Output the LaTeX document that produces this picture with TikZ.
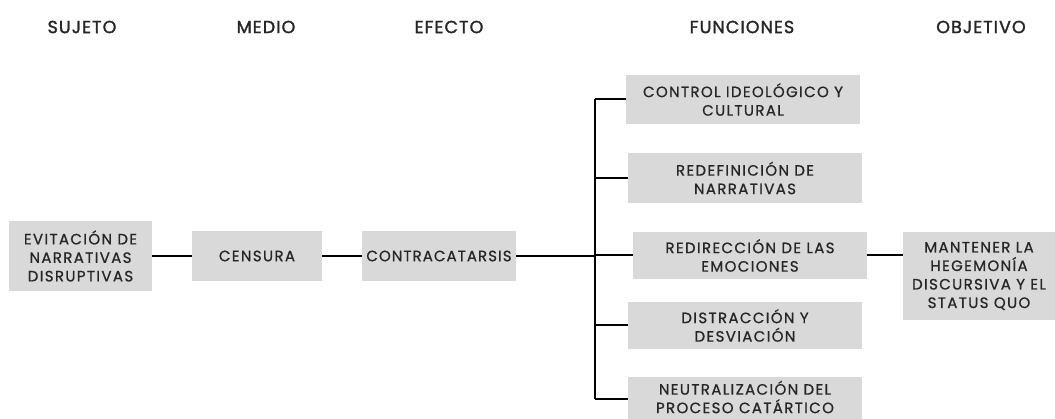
\documentclass[tikz,border=0pt]{standalone}
\usepackage{fontspec}
\setmainfont{Poppins}
\begin{document}
\begin{tikzpicture}[x=1pt,y=-1pt,
  box/.style={fill=boxgray, draw=none, inner sep=0pt, align=center,
    font=\fontsize{15}{18.5}\selectfont\addfontfeatures{LetterSpace=9,FakeBold=0.8}, text=txt},
  head/.style={font=\fontsize{17.5}{18}\selectfont\addfontfeatures{LetterSpace=6,FakeBold=1.6}, text=txt, inner sep=0pt},
  conn/.style={line width=2pt, black}]
\definecolor{boxgray}{HTML}{D9D9D9}
\definecolor{txt}{HTML}{262626}
\path[use as bounding box, fill=white] (0,0) rectangle (1055,419);
\clip (0,0) rectangle (1055,419);
% headers
\node[head] (h1) at (82,27) {SUJETO};
\node[head] (h2) at (266,27) {MEDIO};
\node[head] (h3) at (449,27) {EFECTO};
\node[head] (h4) at (742,27) {FUNCIONES};
\node[head] (h5) at (981,27) {OBJETIVO};
% boxes
\node[box, minimum width=143, minimum height=70] (evit) at (80.5,256) {EVITACIÓN DE\\NARRATIVAS\\DISRUPTIVAS};
\node[box, minimum width=130, minimum height=50] (cens) at (257,256) {CENSURA};
\node[box, minimum width=154, minimum height=50, font=\fontsize{15}{18.5}\selectfont\addfontfeatures{LetterSpace=7,FakeBold=0.8}] (contra) at (439,256) {CONTRACATARSIS};
\node[box, minimum width=234, minimum height=49] (f1) at (743,99.5) {CONTROL IDEOLÓGICO Y\\CULTURAL};
\node[box, minimum width=234, minimum height=50] (f2) at (745,178) {REDEFINICIÓN DE\\NARRATIVAS};
\node[box, minimum width=234, minimum height=47] (f3) at (750,255.5) {REDIRECCIÓN DE LAS\\EMOCIONES};
\node[box, minimum width=234, minimum height=47] (f4) at (745,325.5) {DISTRACCIÓN Y\\DESVIACIÓN};
\fill[boxgray] (628,400) rectangle (862,425);
\node[box, minimum width=234, minimum height=40] (f5) at (745,397) {NEUTRALIZACIÓN DEL\\PROCESO CATÁRTICO};
\node[box, minimum width=152, minimum height=88] (obj) at (979,276) {MANTENER LA\\HEGEMONÍA\\DISCURSIVA Y EL\\STATUS QUO};
% connectors
\coordinate (t) at (595,256);
\coordinate (t5) at (595,399);
\draw[conn] (evit.east) -- (cens.west);
\draw[conn] (cens.east) -- (contra.west);
\draw[conn] (contra.east) -- (t);
\draw[conn] (t |- f1) -- (t5);
\foreach \f in {f1,f2,f3,f4} \draw[conn] (t |- \f) -- (\f.west);
\draw[conn] (t5) -- (f5.west |- t5);
\draw[conn] (f3.east) -- (obj.west |- f3);
\end{tikzpicture}
\end{document}
